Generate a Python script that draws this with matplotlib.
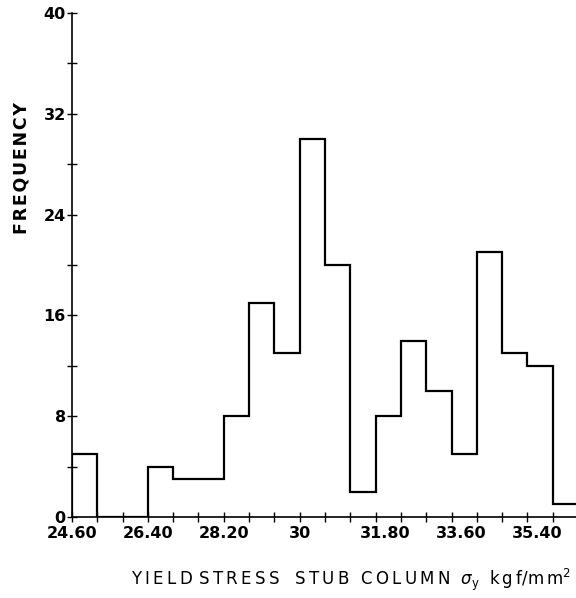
import matplotlib
matplotlib.use("Agg")
import matplotlib.pyplot as plt
from matplotlib.transforms import ScaledTranslation
from matplotlib.ticker import MultipleLocator
import numpy as np

# class edges (kgf/mm^2) and counts per class, 0.6 wide
bin_left = 24.6
bin_width = 0.6
counts = [5, 0, 0, 4, 3, 3, 8, 17, 13, 30, 20, 2, 8, 14, 10, 5, 21, 13, 12, 1]
tick_values = [24.6, 26.4, 28.2, 30.0, 31.8, 33.6, 35.4]
tick_labels = ["24.60", "26.40", "28.20", "30", "31.80", "33.60", "35.40"]
y_ticks = [0, 8, 16, 24, 32, 40]

edges = bin_left + bin_width * np.arange(len(counts) + 1)


def spaced(s, gap="\u2009"):
    # widen letter spacing like the typed original
    return gap.join(s)


plt.rcParams['font.family'] = ['DejaVu Sans']
fig = plt.figure(figsize=(5.76, 5.98), dpi=100)
ax = fig.add_axes([72 / 576, 81 / 598, 506 / 576, 504 / 598])

ax.stairs(counts, edges, baseline=0, fill=False, color='black', linewidth=1.6)

ax.set_xlim(edges[0], edges[-1])
ax.set_ylim(0, 40)
for s in ['top', 'right']:
    ax.spines[s].set_visible(False)
for s in ['left', 'bottom']:
    ax.spines[s].set_linewidth(1.2)
    ax.spines[s].set_zorder(1)

ax.set_xticks(tick_values)
ax.set_xticklabels(tick_labels, fontsize=11.5, fontweight='bold')
ax.xaxis.set_minor_locator(MultipleLocator(bin_width))
ax.set_yticks(y_ticks)
ax.set_yticklabels([str(v) for v in y_ticks], fontsize=11.5, fontweight='bold')
ax.yaxis.set_minor_locator(MultipleLocator(4))
ax.tick_params(which='both', direction='inout', length=7, width=1.0, pad=3)
ax.tick_params(axis='y', pad=1)

# the last three labels sit a little right of their ticks
shift = ScaledTranslation(10 / 100, 0, fig.dpi_scale_trans)
for lab in ax.get_xticklabels()[4:]:
    lab.set_transform(lab.get_transform() + shift)

fig.text(22 / 576, 1 - 168 / 598, spaced("FREQUENCY", "\u200a"), rotation=90,
         ha='center', va='center', fontsize=12.5, fontweight='semibold')
xlabel = (spaced("YIELD") + "\u2009\u2009" + spaced("STRESS") + "\u2009\u2009\u2009 "
          + spaced("STUB") + "\u2009\u2009 " + spaced("COLUMN")
          + r"  $\sigma_{\rm y}$  " + spaced("kgf") + r"/$\rm m\,m^2$")
fig.text(351 / 576, 1 - 580 / 598, xlabel, ha='center', va='center', fontsize=12)

fig.savefig("out.png", dpi=100)
